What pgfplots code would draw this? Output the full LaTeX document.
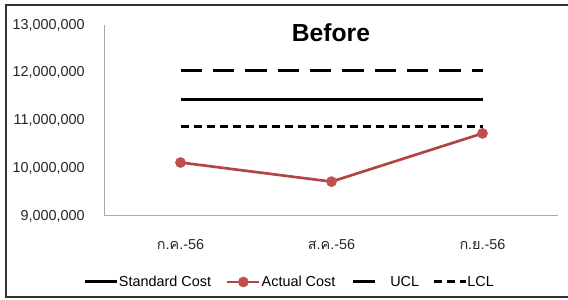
\documentclass[border=0pt]{standalone}
\usepackage{pgfplots}
\pgfplotsset{compat=1.18}
\usepackage{fontspec}
\setmainfont{Liberation Sans}
\newfontfamily\thaifont[Script=Thai]{Loma}
\definecolor{actline}{RGB}{180,68,65}
\definecolor{actmark}{RGB}{192,80,77}
\definecolor{axgray}{RGB}{170,170,170}
\begin{document}
\begin{tikzpicture}[x=0.75pt,y=0.75pt]
\path[use as bounding box] (0,0) rectangle (568,300);
\draw[black!80, line width=1.5pt] (568,295) -- (6,295) -- (6,2.5) -- (568,2.5);
\begin{axis}[
  at={(78.75pt,63pt)}, anchor=south west,
  scale only axis, width=339.75pt, height=143.25pt,
  xmin=-0.5, xmax=2.5, ymin=9000000, ymax=13000000,
  axis x line=bottom, axis y line=left,
  axis line style={axgray, line width=0.75pt, -},
  major tick length=0pt,
  xtick={0,1,2},
  xticklabels={{\thaifont ก.ค.}-56,{\thaifont ส.ค.}-56,{\thaifont ก.ย.}-56},
  ytick={9000000,10000000,11000000,12000000,13000000},
  scaled y ticks=false,
  /pgf/number format/assume math mode=true,
  yticklabel style={/pgf/number format/fixed, /pgf/number format/1000 sep={,}, anchor=east, inner sep=0pt, xshift=-15pt},
  xticklabel style={anchor=center, yshift=-21.75pt},
  tick label style={font=\fontsize{10.8}{13}\selectfont, text=black!85},
  clip=false,
  legend columns=4,
  legend style={draw=none, fill=none, inner sep=0pt, outer sep=0pt,
    at={(-0.0464,-0.3455)}, anchor=west,
    font=\fontsize{10.8}{13}\selectfont,
    nodes={inner sep=0pt},
    /tikz/column 1/.style={column sep=0pt},
    /tikz/column 2/.style={column sep=11.25pt},
    /tikz/column 3/.style={column sep=0.75pt},
    /tikz/column 4/.style={column sep=12.5pt},
    /tikz/column 5/.style={column sep=2.5pt},
    /tikz/column 6/.style={column sep=10pt},
    /tikz/column 7/.style={column sep=0pt}},
  legend image code/.code={\draw[mark repeat=2,mark phase=2,#1] plot coordinates {(0pt,0pt) (12pt,0pt) (24pt,0pt)};},
]
\addplot[black, line width=2.25pt, no markers] coordinates {(0,11440000) (1,11440000) (2,11440000)};
\addlegendentry{Standard Cost}
\addplot[actline, line width=2pt, mark=*, mark size=3.75pt, mark options={fill=actmark, draw=actmark, line width=0.5pt}] coordinates {(0,10120000) (1,9720000) (2,10730000)};
\addlegendentry{Actual Cost}
\addplot[black, line width=2.25pt, no markers, dash pattern=on 16pt off 8.25pt] coordinates {(0,12040000) (1,12040000) (2,12040000)};
\addlegendentry{UCL}
\addplot[black, line width=2.25pt, no markers, dash pattern=on 6pt off 3.75pt] coordinates {(0,10870000) (1,10870000) (2,10870000)};
\addlegendentry{LCL}
\end{axis}
\node[anchor=base, font=\bfseries\fontsize{18.5}{22}\selectfont] at (331,258.3) {Before};
\end{tikzpicture}
\end{document}
